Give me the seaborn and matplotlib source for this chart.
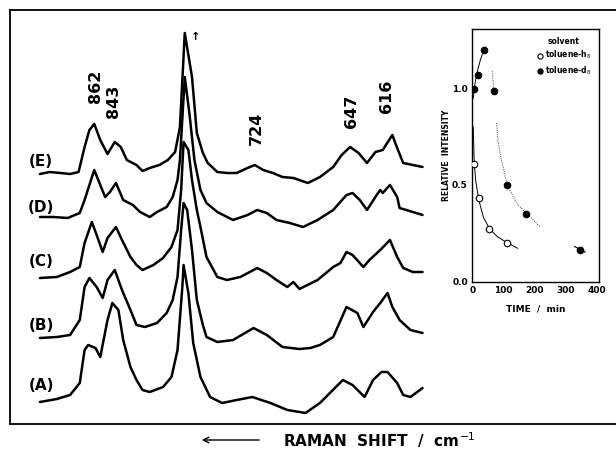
import matplotlib
matplotlib.use("Agg")
import matplotlib.pyplot as plt
import seaborn as sns

# ---------------- data: Raman spectra (Raman shift in cm-1, arbitrary intensity incl. stacking offset)
shift_E = [906, 898, 889, 881, 874, 869, 865, 861, 856, 850, 844, 839, 834, 826, 821, 815, 807, 800, 794, 790,
           786, 780, 776, 771, 767, 759, 751, 743, 734, 728, 721, 713, 705, 696, 684, 674, 663, 656, 649, 642,
           635, 628, 622, 614, 610, 605, 597, 589]
inten_E = [256, 258, 257, 256, 258, 283, 300, 306, 290, 276, 288, 283, 270, 265, 259, 262, 265, 270, 278, 303,
           397, 353, 297, 277, 267, 258, 257, 257, 262, 265, 260, 257, 253, 252, 247, 253, 263, 275, 283, 277,
           267, 278, 280, 295, 282, 267, 265, 263]

shift_D = [906, 895, 883, 873, 869, 861, 852, 848, 843, 837, 829, 823, 815, 809, 801, 796, 792, 790, 786, 782,
           778, 773, 768, 759, 746, 734, 726, 718, 710, 699, 688, 676, 663, 652, 647, 641, 635, 627, 624, 622,
           616, 610, 608, 597, 589]
inten_D = [213, 213, 212, 217, 230, 260, 233, 238, 247, 230, 225, 218, 213, 218, 223, 233, 250, 270, 353, 315,
           270, 240, 227, 218, 210, 215, 220, 217, 210, 207, 203, 210, 220, 235, 237, 230, 220, 235, 240, 237,
           245, 233, 222, 218, 215]

shift_C = [906, 892, 881, 873, 869, 863, 859, 854, 850, 843, 838, 831, 826, 821, 812, 804, 797, 792, 789, 787,
           783, 780, 776, 773, 768, 759, 751, 740, 729, 726, 718, 710, 701, 696, 691, 676, 663, 657, 652, 647,
           638, 633, 624, 616, 610, 605, 597, 589]
inten_C = [152, 153, 158, 163, 187, 208, 195, 178, 192, 203, 190, 173, 165, 160, 165, 172, 183, 200, 240, 288,
           280, 250, 220, 203, 173, 153, 150, 153, 160, 162, 157, 150, 143, 148, 141, 150, 163, 167, 178, 175,
           163, 170, 180, 190, 173, 162, 158, 158]

shift_B = [906, 892, 881, 873, 869, 865, 859, 854, 850, 844, 838, 831, 826, 819, 809, 801, 796, 792, 789, 787,
           784, 780, 776, 771, 768, 759, 746, 729, 718, 705, 691, 682, 674, 663, 652, 643, 638, 630, 624, 618,
           614, 608, 599, 589]
inten_B = [92, 93, 95, 110, 143, 152, 143, 132, 150, 160, 140, 120, 105, 103, 107, 117, 130, 153, 200, 227,
           220, 180, 130, 105, 93, 88, 90, 102, 95, 83, 81, 82, 85, 93, 123, 117, 103, 118, 127, 137,
           123, 110, 100, 97]

shift_A = [906, 892, 881, 873, 869, 866, 860, 856, 850, 846, 841, 837, 831, 826, 821, 815, 804, 797, 792, 788,
           787, 783, 779, 773, 765, 755, 743, 730, 715, 701, 686, 674, 655, 647, 637, 630, 623, 618, 610, 605,
           599, 589]
inten_A = [28, 31, 35, 47, 80, 85, 82, 73, 110, 127, 120, 90, 63, 50, 40, 38, 43, 53, 80, 143,
           165, 137, 87, 53, 33, 27, 30, 33, 27, 20, 17, 27, 50, 45, 33, 50, 58, 58, 47, 35,
           33, 42]

spectrum_names = ["(E)", "(D)", "(C)", "(B)", "(A)"]
label_levels = [268, 223, 168, 104, 44]
peak_labels = ["862", "843", "724", "647", "616"]
peak_positions = [860, 845, 727, 648, 619]
peak_label_levels = [344, 329, 302, 319, 334]

# ---------------- data: inset (relative intensity vs time)
h8_time = [6, 20, 52, 111]
h8_rel = [0.61, 0.43, 0.27, 0.20]
d8_time = [6, 17, 38, 68, 111, 172, 346]
d8_rel = [1.00, 1.07, 1.20, 0.99, 0.50, 0.35, 0.16]

h8_fit_time = [2, 5, 10, 20, 35, 55, 80, 110, 145]
h8_fit_rel = [0.80, 0.62, 0.52, 0.42, 0.33, 0.27, 0.23, 0.20, 0.17]
d8_rise_time = [2, 8, 15, 25, 38]
d8_rise_rel = [0.95, 1.03, 1.09, 1.15, 1.21]
d8_mid_time = [63, 66, 69]
d8_mid_rel = [1.09, 1.03, 0.98]
d8_fall_time = [77, 81, 90, 111, 143, 175, 218]
d8_fall_rel = [0.82, 0.73, 0.65, 0.50, 0.40, 0.35, 0.28]
d8_tail_time = [327, 345, 362]
d8_tail_rel = [0.18, 0.165, 0.15]

# ---------------- figure
sns.set_style("white")
plt.rcParams["font.family"] = ["DejaVu Sans"]
plt.rcParams["text.color"] = "black"
plt.rcParams["axes.labelcolor"] = "black"
plt.rcParams["xtick.color"] = "black"
plt.rcParams["ytick.color"] = "black"
plt.rcParams["axes.edgecolor"] = "black"

W, H = 616, 449
fig = plt.figure(figsize=(W / 100, H / 100), dpi=100)


def px_box(x0, y0, x1, y1):
    return [x0 / W, 1 - y1 / H, (x1 - x0) / W, (y1 - y0) / H]


# main spectra axes: frame from x=10 px (extends past right edge), y=10..424 px
ax = fig.add_axes(px_box(10, 10, 700, 424))
shifts = [shift_E, shift_D, shift_C, shift_B, shift_A]
intens = [inten_E, inten_D, inten_C, inten_B, inten_A]
for s, v in zip(shifts, intens):
    sns.lineplot(x=s, y=v, ax=ax, color="black", lw=1.8, sort=False, estimator=None)

ax.set_xlim(930.8, 359.1)
ax.set_ylim(6, 420)
ax.set_xticks([])
ax.set_yticks([])
ax.set_xlabel("")
ax.set_ylabel("")
for side in ["left", "top", "bottom"]:
    ax.spines[side].set_visible(True)
    ax.spines[side].set_color("black")
    ax.spines[side].set_linewidth(1.3)
ax.spines["right"].set_visible(False)

for name, lvl in zip(spectrum_names, label_levels):
    ax.text(905, lvl, name, ha="center", va="center", fontsize=11, fontweight="bold", color="black")
for lab, pos, lvl in zip(peak_labels, peak_positions, peak_label_levels):
    ax.text(pos, lvl, lab, ha="center", va="center", rotation=90, fontsize=11.5,
            fontweight="bold", color="black")
ax.text(777, 393, "↑", ha="center", va="center", fontsize=8, fontweight="bold", color="black")

# x label with arrow
fig.text(283 / W, 1 - 440 / H, "RAMAN  SHIFT  /  cm$^{-1}$", ha="left", va="center",
         fontsize=11, fontweight="bold", color="black")
ax.annotate("", xy=(199 / W, 1 - 440 / H), xytext=(262 / W, 1 - 440 / H),
            xycoords="figure fraction", textcoords="figure fraction",
            arrowprops=dict(arrowstyle="->", lw=1.0, color="black"))

# ---------------- inset
ax2 = fig.add_axes(px_box(472, 29, 599, 282))
sns.lineplot(x=h8_fit_time, y=h8_fit_rel, ax=ax2, color="black", lw=0.7, sort=False, estimator=None)
sns.lineplot(x=d8_rise_time, y=d8_rise_rel, ax=ax2, color="black", lw=0.7, sort=False, estimator=None)
sns.lineplot(x=d8_mid_time, y=d8_mid_rel, ax=ax2, color="black", lw=0.6, ls=":", sort=False, estimator=None)
sns.lineplot(x=d8_fall_time, y=d8_fall_rel, ax=ax2, color="black", lw=0.6, ls=":", sort=False, estimator=None)
sns.lineplot(x=d8_tail_time, y=d8_tail_rel, ax=ax2, color="black", lw=0.8, sort=False, estimator=None)
sns.scatterplot(x=h8_time, y=h8_rel, ax=ax2, marker="o", s=22, facecolor="white",
                edgecolor="black", linewidth=0.8, zorder=5, label="toluene-h$_8$")
sns.scatterplot(x=d8_time, y=d8_rel, ax=ax2, marker="o", s=22, color="black",
                edgecolor="black", linewidth=0.8, zorder=5, label="toluene-d$_8$")
ax2.set_xlim(-2, 406)
ax2.set_ylim(-0.005, 1.31)
ax2.set_xticks([0, 100, 200, 300, 400])
ax2.set_xticks([50, 150, 250, 350], minor=True)
ax2.set_yticks([0, 0.5, 1.0])
ax2.set_yticks([0.1, 0.2, 0.3, 0.4, 0.6, 0.7, 0.8, 0.9, 1.1, 1.2], minor=True)
ax2.set_yticklabels(["0.0", "0.5", "1.0"])
ax2.tick_params(which="major", direction="in", length=4, width=0.8, labelsize=6.5, pad=3,
                colors="black")
ax2.tick_params(which="minor", direction="in", length=2, width=0.6, colors="black")
for lab in ax2.get_xticklabels() + ax2.get_yticklabels():
    lab.set_fontweight("bold")
for side in ax2.spines.values():
    side.set_visible(True)
    side.set_color("black")
    side.set_linewidth(1.0)
ax2.set_xlabel("TIME  /  min", fontsize=6.5, fontweight="bold", labelpad=7, color="black")
ax2.set_ylabel("RELATIVE  INTENSITY", fontsize=5.5, fontweight="bold", labelpad=1, color="black")
leg = ax2.legend(title="solvent", loc="upper right", frameon=False, fontsize=5.5,
                 title_fontsize=5.5, handletextpad=0.2, borderaxespad=0.6, labelspacing=0.4,
                 handlelength=1.0, markerscale=0.8)
leg.get_title().set_fontweight("bold")
leg.get_title().set_color("black")
for t in leg.get_texts():
    t.set_fontweight("bold")
    t.set_color("black")

fig.savefig("out.png", dpi=100)
